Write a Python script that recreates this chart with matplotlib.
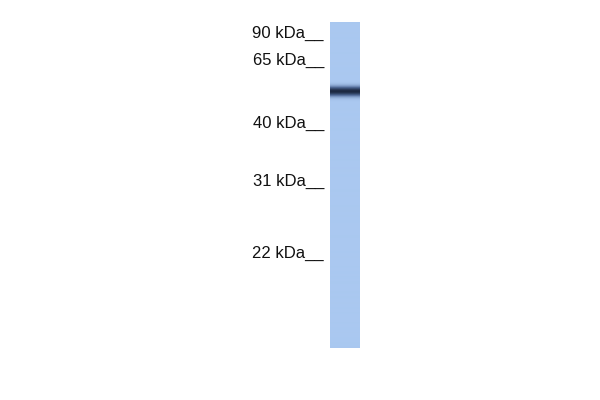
import numpy as np
import matplotlib.pyplot as plt
from matplotlib.colors import LinearSegmentedColormap

# marker ladder (label, y position in the image, pixels from top)
marker_labels = ['90 kDa', '65 kDa', '40 kDa', '31 kDa', '22 kDa']
marker_y = [33, 60, 123, 181, 253]

# lane extent and the single band
lane_left, lane_right = 330, 360
lane_top, lane_bottom = 22, 348
band_y = 91
band_height = 3.2
band_strength = 1.0

fig = plt.figure(figsize=(6, 4), dpi=100)
ax = fig.add_axes([0, 0, 1, 1])
ax.set_xlim(0, 600)
ax.set_ylim(400, 0)
ax.axis('off')

# lane profile: background blue darkening towards the band
rows = np.arange(lane_top, lane_bottom + 1)
profile = band_strength * np.exp(-0.5 * ((rows - band_y) / band_height) ** 2)
img = np.tile(profile[:, None], (1, lane_right - lane_left))
cmap = LinearSegmentedColormap.from_list('blot', ['#aac8f0', '#4a6490', '#1c2840'])
ax.imshow(img, cmap=cmap, vmin=0, vmax=1, aspect='auto',
          extent=[lane_left, lane_right, lane_bottom, lane_top],
          interpolation='bilinear')

for lab, y in zip(marker_labels, marker_y):
    ax.text(324, y, lab + '__', ha='right', va='center',
            fontsize=12, family='Liberation Sans', color='#111111')

fig.savefig('out.png', dpi=100)
